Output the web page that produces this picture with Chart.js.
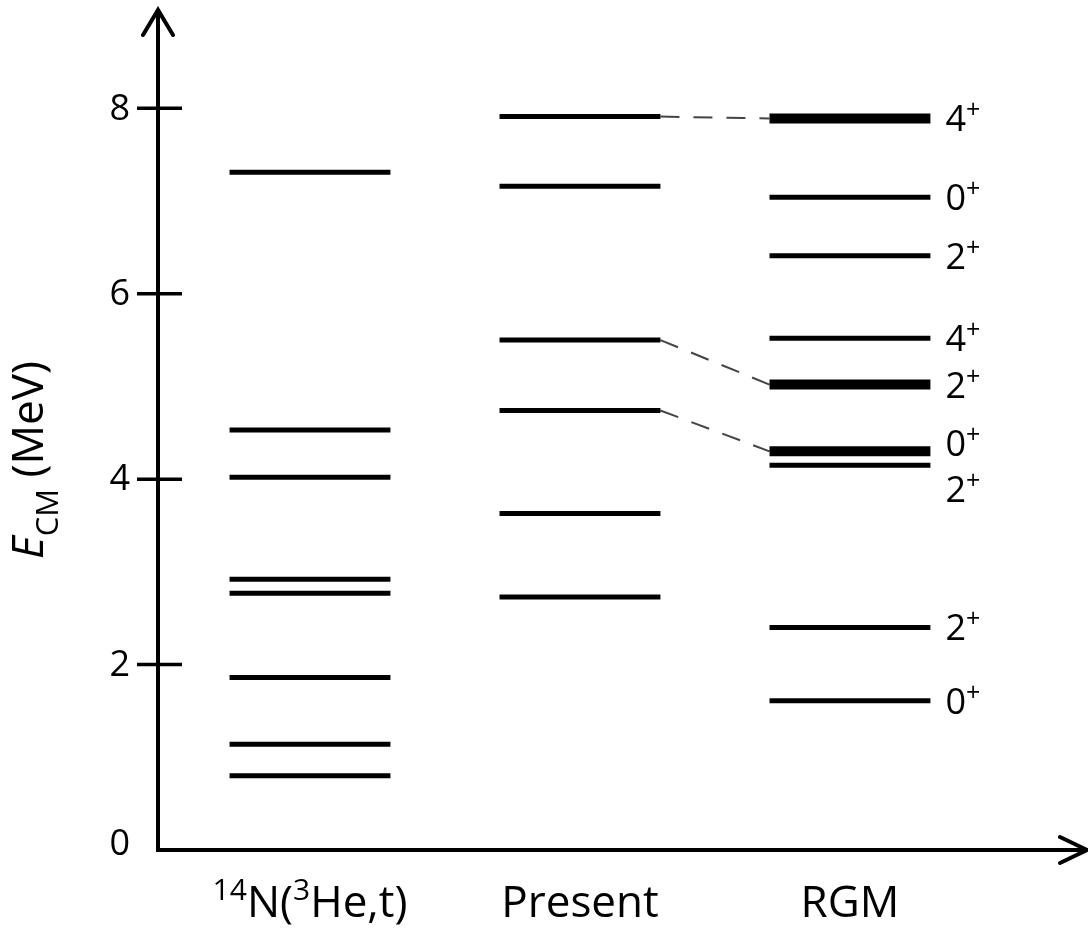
<!DOCTYPE html>
<html>
<head>
<meta charset="utf-8">
<script src="https://cdn.jsdelivr.net/npm/chart.js@4.4.0/dist/chart.umd.min.js"></script>
<style>
  html, body { margin: 0; padding: 0; background: #fff; }
  #wrap { width: 1088px; height: 929px; }
</style>
</head>
<body>
<div id="wrap"><canvas id="grafico"></canvas></div>
<script>
// niveis de energia (MeV)
const colunas = ['14N(3He,t)', 'Present', 'RGM'];
const nivelExp = [7.31, 4.53, 4.02, 2.92, 2.77, 1.86, 1.14, 0.80];
const nivelPresent = [7.91, 7.16, 5.50, 4.74, 3.63, 2.73];
const nivelRgm = [7.89, 7.04, 6.41, 5.52, 5.02, 4.30, 4.15, 2.40, 1.61];
const spinRgm = ['4', '0', '2', '4', '2', '0', '2', '2', '0'];
const forteRgm = [true, false, false, false, true, true, false, false, false];
const ligacoes = [[0, 0], [2, 4], [3, 5]]; // indice Present -> indice RGM
const yTicks = [0, 2, 4, 6, 8];

const meia = 0.298;
const fonte = '"Open Sans", sans-serif';

const datasets = [];
[nivelExp, nivelPresent, nivelRgm].forEach((niveis, c) => {
  const pos = c + 1;
  niveis.forEach((e, i) => {
    const forte = c === 2 && forteRgm[i];
    datasets.push({
      data: [{ x: pos - meia, y: e }, { x: pos + meia, y: e }],
      borderColor: '#000',
      borderWidth: forte ? 10 : 5,
      pointRadius: 0
    });
  });
});
ligacoes.forEach(([p, r]) => {
  datasets.push({
    data: [{ x: 2 + meia, y: nivelPresent[p] }, { x: 3 - meia, y: nivelRgm[r] }],
    borderColor: '#444',
    borderWidth: 2,
    borderDash: [19, 14],
    pointRadius: 0
  });
});

// desenha texto em partes (normal / sobrescrito / subscrito)
function partes(ctx, pecas, x, y, centro) {
  let w = 0;
  pecas.forEach(p => { ctx.font = p.font; w += ctx.measureText(p.t).width; });
  let cx = centro ? x - w / 2 : x;
  pecas.forEach(p => {
    ctx.font = p.font;
    ctx.fillText(p.t, cx, y + (p.dy || 0));
    cx += ctx.measureText(p.t).width;
  });
}

const eixos = {
  id: 'eixos',
  afterDraw(chart) {
    const { ctx, chartArea: a, scales: { x, y } } = chart;
    ctx.save();
    ctx.strokeStyle = '#000';
    ctx.fillStyle = '#000';
    ctx.lineWidth = 4;
    ctx.lineCap = 'butt';
    const x0 = a.left, y0 = a.bottom;

    // eixos
    ctx.beginPath();
    ctx.moveTo(x0, a.top + 2);
    ctx.lineTo(x0, y0 + 2);
    ctx.moveTo(x0 - 2, y0);
    ctx.lineTo(a.right - 2, y0);
    ctx.stroke();

    // setas
    ctx.lineCap = 'round';
    ctx.lineJoin = 'miter';
    ctx.beginPath();
    ctx.moveTo(x0 - 15, a.top + 25);
    ctx.lineTo(x0, a.top);
    ctx.lineTo(x0 + 15, a.top + 25);
    ctx.moveTo(a.right - 27, y0 - 13);
    ctx.lineTo(a.right, y0);
    ctx.lineTo(a.right - 27, y0 + 13);
    ctx.stroke();

    // marcas e rotulos do eixo y
    ctx.lineCap = 'butt';
    ctx.lineWidth = 3.5;
    ctx.font = '36px ' + fonte;
    ctx.textAlign = 'right';
    ctx.textBaseline = 'middle';
    yTicks.forEach(v => {
      const py = y.getPixelForValue(v);
      if (v > 0) {
        ctx.beginPath();
        ctx.moveTo(x0 - 21, py);
        ctx.lineTo(x0 + 24, py);
        ctx.stroke();
      }
      ctx.fillText(String(v), x0 - 28, v === 0 ? py - 5 : py + 1);
    });

    // rotulos das colunas
    ctx.textAlign = 'left';
    ctx.textBaseline = 'alphabetic';
    const big = '44px ' + fonte, sup = '30px ' + fonte;
    const base = 917;
    partes(ctx, [
      { t: '14', font: sup, dy: -17 },
      { t: 'N(', font: big },
      { t: '3', font: sup, dy: -17 },
      { t: 'He,t)', font: big }
    ], x.getPixelForValue(1), base, true);
    partes(ctx, [{ t: colunas[1], font: big }], x.getPixelForValue(2), base, true);
    partes(ctx, [{ t: colunas[2], font: big }], x.getPixelForValue(3), base, true);

    // spins RGM (os dois niveis vizinhos em ~4.2 MeV tem rotulos afastados)
    const ajuste = { 5: 0.09, 6: -0.26 };
    const lx = x.getPixelForValue(3 + meia) + 15;
    nivelRgm.forEach((e, i) => {
      const py = y.getPixelForValue(e + (ajuste[i] || 0));
      partes(ctx, [
        { t: spinRgm[i], font: '36px ' + fonte, dy: 13 },
        { t: '+', font: '25px ' + fonte, dy: 0 }
      ], lx, py, false);
    });

    // titulo do eixo y
    ctx.translate(43, 460);
    ctx.rotate(-Math.PI / 2);
    const tf = '44px ' + fonte;
    partes(ctx, [
      { t: 'E', font: 'italic ' + tf },
      { t: 'CM', font: '31px ' + fonte, dy: 15 },
      { t: ' (MeV)', font: tf }
    ], 0, 0, true);
    ctx.restore();
  }
};

new Chart(document.getElementById('grafico'), {
  type: 'line',
  data: { datasets: datasets },
  options: {
    responsive: true,
    maintainAspectRatio: false,
    animation: false,
    layout: { padding: { left: 158, right: 1, top: 10, bottom: 79 } },
    plugins: { legend: { display: false }, tooltip: { enabled: false } },
    scales: {
      x: { type: 'linear', min: 0.437, max: 3.878, display: false },
      y: { type: 'linear', min: 0, max: 9.06, display: false }
    }
  },
  plugins: [eixos]
});
</script>
</body>
</html>
